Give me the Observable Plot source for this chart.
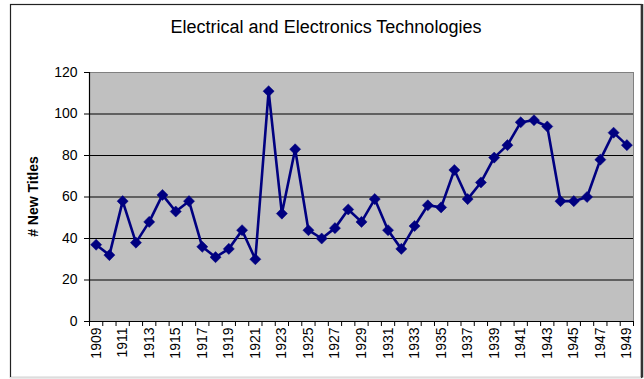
<!DOCTYPE html>
<html>
<head>
<meta charset="utf-8">
<script src="https://cdn.jsdelivr.net/npm/d3@7"></script>
<script src="https://cdn.jsdelivr.net/npm/@observablehq/plot@0.6"></script>
<style>
  html, body { margin: 0; padding: 0; background: #fff; }
  svg { display: block; }
</style>
</head>
<body>
<div id="chart"></div>
<script>
// Annual count of new titles, 1909–1949
const years = [1909, 1910, 1911, 1912, 1913, 1914, 1915, 1916, 1917, 1918,
               1919, 1920, 1921, 1922, 1923, 1924, 1925, 1926, 1927, 1928,
               1929, 1930, 1931, 1932, 1933, 1934, 1935, 1936, 1937, 1938,
               1939, 1940, 1941, 1942, 1943, 1944, 1945, 1946, 1947, 1948, 1949];
const newTitles = [37, 32, 58, 38, 48, 61, 53, 58, 36, 31,
                   35, 44, 30, 111, 52, 83, 44, 40, 45, 54,
                   48, 59, 44, 35, 46, 56, 55, 73, 59, 67,
                   79, 85, 96, 97, 94, 58, 58, 60, 78, 91, 85];
const yTicks = [0, 20, 40, 60, 80, 100, 120];
const yGrid = [20, 40, 60, 80, 100];
const yearLabels = [1909, 1911, 1913, 1915, 1917, 1919, 1921, 1923, 1925, 1927,
                    1929, 1931, 1933, 1935, 1937, 1939, 1941, 1943, 1945, 1947, 1949];

const chartTitle = "Electrical and Electronics Technologies";
const yTitle = "# New Titles";

const data = years.map((year, i) => ({year, count: newTitles[i]}));
// category boundaries: tick marks sit between the yearly points
const bounds = [...years.map(y => y - 0.5), years[years.length - 1] + 0.5];

const font = "'Liberation Sans', Arial, sans-serif";
const navy = "#000080";

const plot = Plot.plot({
  width: 644,
  height: 379,
  marginLeft: 89,
  marginRight: 11,
  marginTop: 72,
  marginBottom: 58,
  style: {fontFamily: font, color: "#000", background: "#fff", overflow: "visible"},
  x: {type: "linear", domain: [bounds[0], bounds[bounds.length - 1]]},
  y: {domain: [0, 120]},
  marks: [
    Plot.frame({fill: "#c0c0c0", stroke: "#808080", strokeWidth: 1}),
    Plot.gridY(yGrid, {stroke: "#000", strokeOpacity: 1, strokeWidth: 1}),
    Plot.axisY(yTicks, {tickSize: 5, tickPadding: 7, fontSize: 14, label: null, stroke: "#000"}),
    Plot.axisX(bounds, {tickSize: 5, tickFormat: () => "", label: null, stroke: "#000"}),
    Plot.axisX(yearLabels, {tickSize: 0, tickPadding: 6, tickRotate: -90, fontSize: 14,
                            tickFormat: d => String(d), label: null}),
    Plot.ruleX([bounds[0]], {stroke: "#000", strokeWidth: 1.2}),
    Plot.ruleY([0], {stroke: "#000", strokeWidth: 1.2}),
    Plot.line(data, {x: "year", y: "count", stroke: navy, strokeWidth: 2.6}),
    Plot.dot(data, {x: "year", y: "count", symbol: "diamond2", r: 5, fill: navy, stroke: navy, strokeWidth: 0.5})
  ]
});

const svg = d3.select(plot);

// chart border
svg.insert("rect", ":first-child")
  .attr("x", 10.5).attr("y", 4.5).attr("width", 631).attr("height", 373)
  .attr("fill", "#fff").attr("stroke", "#222").attr("stroke-width", 1.2);
svg.append("line")
  .attr("x1", 642).attr("x2", 642).attr("y1", 4).attr("y2", 377.5)
  .attr("stroke", "#333").attr("stroke-width", 2.5);
svg.append("line")
  .attr("x1", 10).attr("x2", 641).attr("y1", 377.5).attr("y2", 377.5)
  .attr("stroke", "#ddd").attr("stroke-width", 1);

// chart title
svg.append("text")
  .attr("x", 326).attr("y", 33)
  .attr("text-anchor", "middle")
  .style("font", `18px ${font}`)
  .attr("fill", "#000")
  .text(chartTitle);

// vertical axis title
svg.append("text")
  .attr("transform", "translate(38,196.5) rotate(-90)")
  .attr("text-anchor", "middle")
  .style("font", `bold 14px ${font}`)
  .attr("fill", "#000")
  .text(yTitle);

document.getElementById("chart").appendChild(plot);
</script>
</body>
</html>
